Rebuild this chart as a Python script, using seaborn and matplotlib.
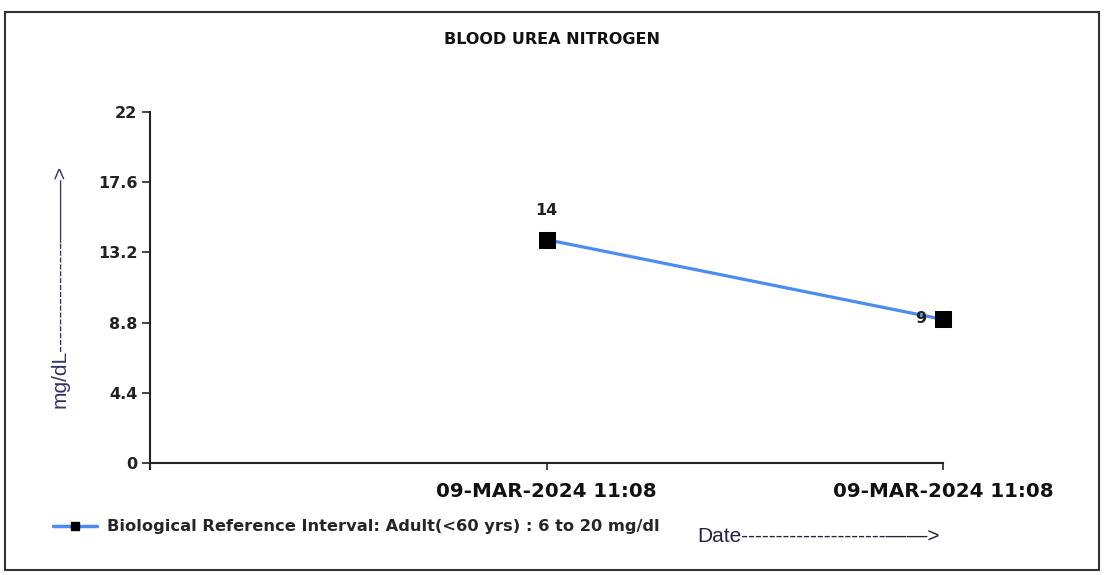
import matplotlib
matplotlib.use("Agg")
import matplotlib.pyplot as plt
import seaborn as sns
import pandas as pd
from matplotlib.patches import Rectangle
from matplotlib.lines import Line2D

# chart data
dates = ["09-MAR-2024 11:08", "09-MAR-2024 11:08"]
positions = [1, 2]
values = [14, 9]
y_ticks = [0, 4.4, 8.8, 13.2, 17.6, 22]
y_tick_labels = ["0", "4.4", "8.8", "13.2", "17.6", "22"]

df = pd.DataFrame({"pos": positions, "value": values, "date": dates})

sns.set_style("white")
plt.rcParams["font.family"] = ["DejaVu Sans"]

fig = plt.figure(figsize=(11.04, 5.75), dpi=100)
ax = fig.add_axes([150 / 1104, 1 - 463 / 575, (943 - 150) / 1104, (463 - 112) / 575])

line_color = "#4a8cf0"
sns.lineplot(data=df, x="pos", y="value", ax=ax, color=line_color, linewidth=2.3,
             marker="s", markersize=12, markerfacecolor="black", markeredgecolor="black",
             clip_on=False)

# value labels
ax.annotate(str(values[0]), (positions[0], values[0]), xytext=(0, 21), textcoords="offset points",
            ha="center", va="center", fontsize=11.5, fontweight="bold", color="#222222")
ax.annotate(str(values[1]), (positions[1], values[1]), xytext=(-16, 1), textcoords="offset points",
            ha="center", va="center", fontsize=11.5, fontweight="bold", color="#222222")

ax.set_xlim(0, 2)
ax.set_ylim(0, 22)
ax.set_yticks(y_ticks)
ax.set_yticklabels(y_tick_labels, fontsize=11.5, fontweight="bold", color="#222222")
ax.set_xticks(positions)
ax.set_xticklabels(dates, fontsize=14.3, fontweight="bold", color="#111111")
ax.tick_params(axis="y", direction="out", length=6, width=1.2, pad=3, left=True)
ax.tick_params(axis="x", direction="out", length=5, width=1.2, pad=9, bottom=True)
ax.set_xlabel("")
ax.set_ylabel("")
for s in ["top", "right"]:
    ax.spines[s].set_visible(False)
for s in ["left", "bottom"]:
    ax.spines[s].set_color("#222222")
    ax.spines[s].set_linewidth(1.5)
ax.spines["left"].set_bounds(-0.4, 22)

fig.text(552 / 1104, 1 - 40 / 575, "BLOOD UREA NITROGEN", ha="center", va="center",
         fontsize=11.5, fontweight="bold", color="#111111")

fig.text(60 / 1104, 1 - 287 / 575, "mg/dL" + "-" * 16 + "———>", rotation=90,
         ha="center", va="center", fontsize=15, family="Liberation Sans", color="#333366")

fig.text(697 / 1104, 1 - 536 / 575, "Date" + "-" * 21 + "——>", ha="left", va="center",
         fontsize=15, family="Liberation Sans", color="#222244")

handle = Line2D([], [], color=line_color, linewidth=2.5, marker="s", markersize=6,
                markerfacecolor="black", markeredgecolor="black")
fig.legend([handle], ["Biological Reference Interval: Adult(<60 yrs) : 6 to 20 mg/dl"],
           loc="center left", bbox_to_anchor=(53 / 1104, 1 - 527 / 575), frameon=False,
           borderpad=0, borderaxespad=0, handlelength=2.7, handletextpad=0.65,
           prop={"size": 11.7, "weight": "bold"})

fig.patches.append(Rectangle((5 / 1104, 5 / 575), 1094 / 1104, 558 / 575,
                             transform=fig.transFigure, fill=False, edgecolor="#333333",
                             linewidth=1.5))

fig.savefig("out.png", dpi=100)
